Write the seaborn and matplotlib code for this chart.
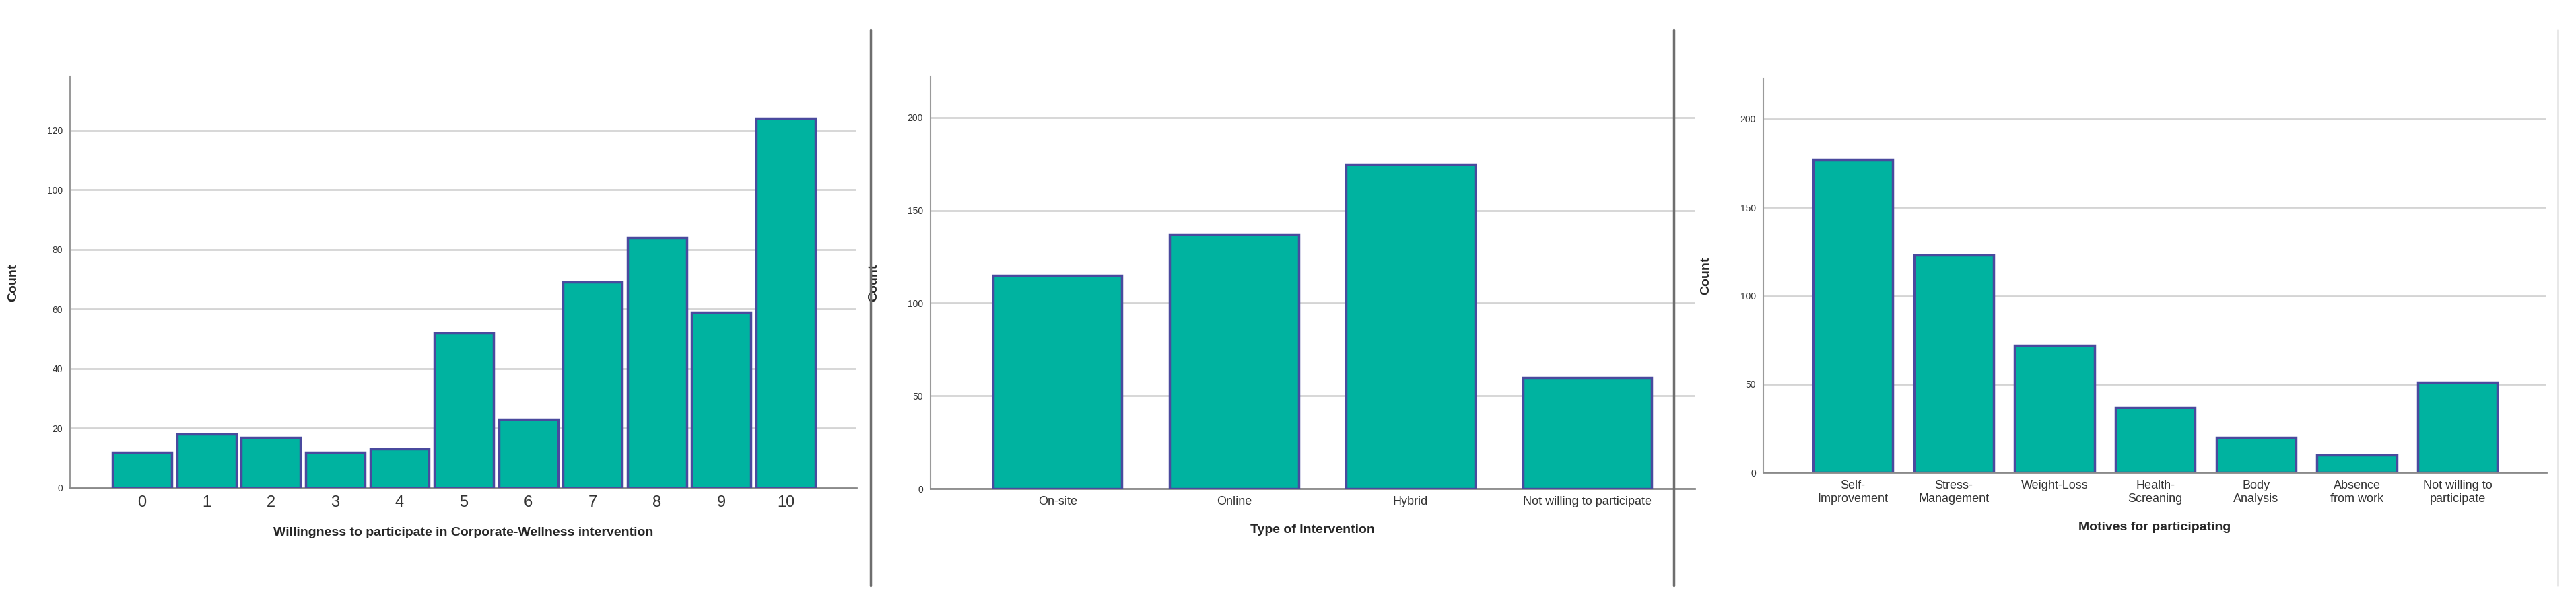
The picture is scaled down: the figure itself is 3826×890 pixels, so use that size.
import matplotlib
matplotlib.use("Agg")
import matplotlib.pyplot as plt
import seaborn as sns
import pandas as pd

# data
willingness_levels = [str(i) for i in range(11)]
willingness_counts = [12, 18, 17, 12, 13, 52, 23, 69, 84, 59, 124]

intervention_types = ["On-site", "Online", "Hybrid", "Not willing to participate"]
intervention_counts = [115, 137, 175, 60]

motives = ["Self-\nImprovement", "Stress-\nManagement", "Weight-Loss", "Health-\nScreaning",
           "Body\nAnalysis", "Absence\nfrom work", "Not willing to\nparticipate"]
motive_counts = [177, 123, 72, 37, 20, 10, 51]

sns.set_style("white")
plt.rcParams['font.family'] = ['Liberation Sans', 'DejaVu Sans']

BAR = "#00B3A0"
EDGE = "#4A4A9E"

fig = plt.figure(figsize=(38.26, 8.9), dpi=100)

panels = [
    # (rect, cats, vals, xlabel, ylim, yticks, width, xlim, xtick size)
    ([0.0272, 0.1854, 0.3053, 0.6866], willingness_levels, willingness_counts,
     "Willingness to participate in Corporate-Wellness intervention",
     (0, 138), [0, 20, 40, 60, 80, 100, 120], 0.92, (-1.12, 11.1), 17),
    ([0.3612, 0.184, 0.2967, 0.688], intervention_types, intervention_counts,
     "Type of Intervention", (0, 222), [0, 50, 100, 150, 200], 0.73, (-0.72, 3.61), 13),
    ([0.6845, 0.211, 0.304, 0.658], motives, motive_counts,
     "Motives for participating", (0, 223), [0, 50, 100, 150, 200], 0.79, (-0.89, 6.88), 13),
]

for rect, cats, vals, xlabel, ylim, yticks, width, xlim, xts in panels:
    ax = fig.add_axes(rect)
    df = pd.DataFrame({"cat": cats, "count": vals})
    sns.barplot(data=df, x="cat", y="count", color=BAR, saturation=1,
                width=width, edgecolor=EDGE, linewidth=2.5, ax=ax, zorder=3)
    ax.set_ylim(*ylim)
    ax.set_xlim(*xlim)
    ax.set_yticks(yticks)
    ax.yaxis.grid(True, color="#d4d4d4", linewidth=2, zorder=0)
    ax.set_axisbelow(True)
    for s in ["top", "right"]:
        ax.spines[s].set_visible(False)
    ax.spines["left"].set_color("#9a9a9a")
    ax.spines["bottom"].set_color("#8a8a8a")
    ax.spines["left"].set_linewidth(1.5)
    ax.spines["bottom"].set_linewidth(2)
    ax.tick_params(axis="y", labelsize=10, colors="#333333", length=0, pad=8)
    ax.tick_params(axis="x", labelsize=xts, colors="#333333", length=0, pad=8)
    ax.set_xlabel(xlabel, fontsize=14, fontweight="bold", labelpad=18)
    ax.set_ylabel("Count", fontsize=14, fontweight="bold", labelpad=30)

# panel separators
for x in [1293 / 3826, 2486 / 3826]:
    fig.add_artist(plt.Line2D([x, x], [1 - 870 / 890, 1 - 44 / 890],
                              transform=fig.transFigure, color="#6e6e6e", linewidth=2.5))
fig.add_artist(plt.Line2D([3799 / 3826, 3799 / 3826], [1 - 870 / 890, 1 - 44 / 890],
                          transform=fig.transFigure, color="#e6e6e6", linewidth=2))

fig.savefig("out.png", dpi=100)
